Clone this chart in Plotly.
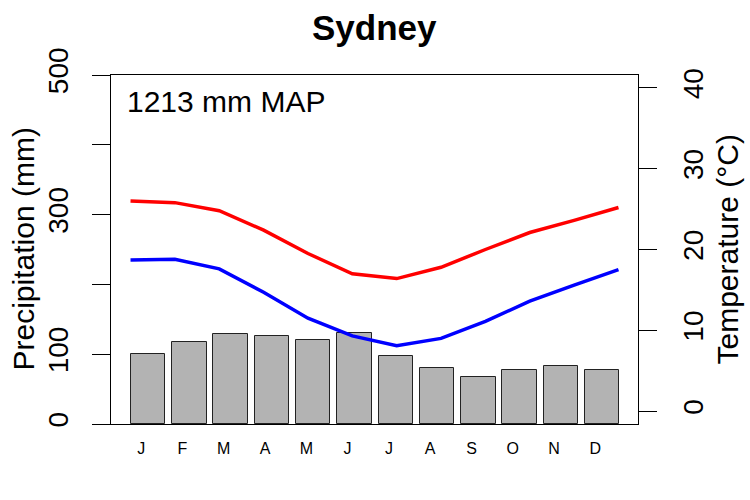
import plotly.graph_objects as go

# ---- data ----
months = ["J", "F", "M", "A", "M", "J", "J", "A", "S", "O", "N", "D"]
precip = [101, 118, 129, 126, 121, 130, 98, 80, 68, 77, 83, 78]
tmax = [26.0, 25.8, 24.8, 22.4, 19.5, 17.0, 16.4, 17.8, 20.0, 22.1, 23.6, 25.2]
tmin = [18.7, 18.8, 17.6, 14.7, 11.5, 9.3, 8.1, 9.0, 11.1, 13.6, 15.6, 17.5]
precip_ticks = [0, 100, 200, 300, 400, 500]
precip_ticktext = ["0", "100", "", "300", "", "500"]
temp_ticks = [0, 10, 20, 30, 40]
title = "Sydney"
map_label = "1213 mm MAP"

FONT = "Liberation Sans, Arial, Helvetica, sans-serif"

bar_x = list(range(len(months)))
line_x = list(range(1, len(months) + 1))
label_x = [i - 0.167 for i in bar_x]

fig = go.Figure()
fig.add_trace(go.Bar(
    x=bar_x, y=precip, width=0.833,
    marker=dict(color="#B3B3B3", line=dict(color="#222222", width=1)),
    xaxis="x", yaxis="y", showlegend=False, hoverinfo="skip",
))
fig.add_trace(go.Scatter(
    x=line_x, y=tmax, mode="lines", line=dict(color="#FF0000", width=3.5),
    xaxis="x2", yaxis="y2", showlegend=False,
))
fig.add_trace(go.Scatter(
    x=line_x, y=tmin, mode="lines", line=dict(color="#0000FF", width=3.5),
    xaxis="x2", yaxis="y2", showlegend=False,
))

fig.update_layout(
    width=750, height=500, autosize=False,
    margin=dict(l=111, r=112, t=75, b=76),
    paper_bgcolor="white", plot_bgcolor="white",
    font=dict(family=FONT, color="black"),
    bargap=0,
    xaxis=dict(
        range=[-0.897, 11.866], tickmode="array", tickvals=label_x, ticktext=months,
        ticks="", showgrid=False, zeroline=False, showline=True, linecolor="black",
        linewidth=1, mirror=True, tickfont=dict(size=16), ticklabelstandoff=10,
    ),
    xaxis2=dict(range=[0.56, 12.44], overlaying="x", visible=False),
    yaxis=dict(
        range=[0, 500], tickmode="array", tickvals=precip_ticks, ticktext=precip_ticktext,
        ticks="outside", ticklen=18, tickcolor="black", tickwidth=1,
        tickangle=-90, tickfont=dict(size=28), showgrid=False, zeroline=False,
        showline=True, linecolor="black", linewidth=1, mirror=True,
        ticklabelstandoff=13,
    ),
    yaxis2=dict(
        range=[-1.6, 41.6], overlaying="y", side="right", tickmode="array",
        tickvals=temp_ticks, ticks="outside", ticklen=18, tickcolor="black", tickwidth=1,
        tickangle=-90, tickfont=dict(size=28), showgrid=False, zeroline=False,
        showline=False, ticklabelstandoff=12,
    ),
    annotations=[
        dict(text="<b>" + title + "</b>", xref="paper", yref="paper", x=0.5, y=1,
             yshift=48, showarrow=False, font=dict(size=35), xanchor="center", yanchor="middle"),
        dict(text=map_label, xref="paper", yref="paper", x=0, y=1, xshift=14, yshift=-26,
             showarrow=False, font=dict(size=30), xanchor="left", yanchor="middle"),
        dict(text="Precipitation (mm)", xref="paper", yref="paper", x=0, y=0.5,
             xshift=-88, textangle=-90, showarrow=False, font=dict(size=30),
             xanchor="center", yanchor="middle"),
        dict(text="Temperature (°C)", xref="paper", yref="paper", x=1, y=0.5,
             xshift=89, textangle=-90, showarrow=False, font=dict(size=30),
             xanchor="center", yanchor="middle"),
    ],
)

fig.write_html("out.html")
